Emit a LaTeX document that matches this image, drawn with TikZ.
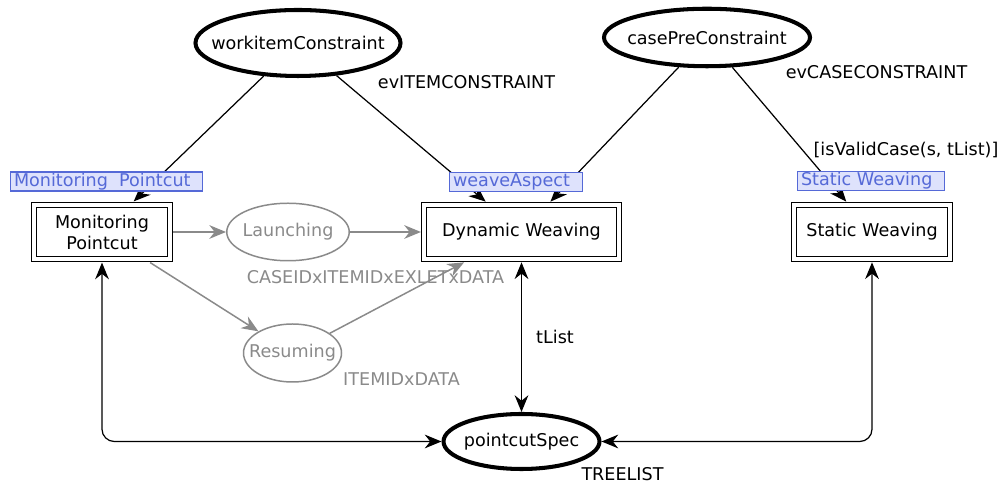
\documentclass[tikz,border=0pt]{standalone}
\usepackage{fontspec}
\setmainfont{DejaVu Sans}
\usetikzlibrary{shapes.geometric,arrows.meta}
\definecolor{tagblue}{RGB}{85,105,215}
\definecolor{tagfill}{RGB}{222,226,252}
\definecolor{faded}{RGB}{138,138,138}

\begin{document}
\begin{tikzpicture}[
    >={Stealth[length=9.5pt,width=7.8pt]},
    place/.style={ellipse,draw,line width=2.3pt,inner xsep=-3cm,inner ysep=0pt},
    trans/.style={rectangle,draw,double,line width=0.75pt,double distance=2.1pt,outer sep=1.9pt,minimum height=1.08cm,align=center},
    ghost/.style={ellipse,draw=faded,text=faded,line width=0.85pt,inner xsep=-3cm,inner ysep=0pt},
    tag/.style={rectangle,draw=tagblue,fill=tagfill,text=tagblue,line width=0.6pt,inner xsep=2pt,inner ysep=0.4pt,text height=7.6pt,text depth=2.4pt,anchor=west,execute at end node={\hspace{5pt}}},
    link/.style={line width=0.7pt},
    dim/.style={faded,line width=0.85pt}
  ]
    \useasboundingbox (0,0) rectangle (20.1,9.68);
    \node[place,minimum width=4.1cm,minimum height=1.32cm] (wic) at (5.96,8.82) {workitemConstraint};
    \node[place,minimum width=4.12cm,minimum height=1.15cm] (cpc) at (14.14,8.93) {casePreConstraint};
    \node[place,minimum width=3.12cm,minimum height=1.1cm] (pcs) at (10.43,0.85) {pointcutSpec};
    \node[trans,minimum width=2.71cm,minimum height=1.09cm] (mp) at (2.04,5.04) {Monitoring\\Pointcut};
    \node[trans,minimum width=3.89cm] (dw) at (10.43,5.04) {Dynamic Weaving};
    \node[trans,minimum width=3.11cm] (sw) at (17.44,5.04) {Static Weaving};
    \node[ghost,minimum width=2.45cm,minimum height=1.15cm] (lau) at (5.76,5.04) {Launching};
    \node[ghost,minimum width=1.96cm,minimum height=1.16cm] (res) at (5.85,2.62) {Resuming};

    \draw[->,link] (wic) edge (mp) edge (dw);
    \draw[->,link] (cpc) edge (dw) edge (sw);
    \draw[<->,link,rounded corners=7pt] (mp) |- (pcs);
    \draw[<->,link,rounded corners=7pt] (sw) |- (pcs);
    \draw[<->,link] (dw) -- (pcs);
    \draw[->,dim] (mp) edge (lau) edge (res);
    \draw[->,dim] (lau) edge (dw) (res) edge (dw);

    \node[tag] (mptag) at (0.2,6.05) {Monitoring\ \ Pointcut};
    \node[tag] (watag) at (8.98,6.04) {weaveAspect};
    \node[tag] (swtag) at (15.94,6.06) {Static Weaving};
    \node (evi) at (9.33,8.04) {evITEMCONSTRAINT};
    \node (evc) at (17.53,8.24) {evCASECONSTRAINT};
    \node (grd) at (18.12,6.68) {[isValidCase(s, tList)]};
    \node[anchor=west] (tl) at (10.6,2.94) {tList};
    \node (tre) at (12.45,0.2) {TREELIST};
    \node[text=faded] (cix) at (7.51,4.14) {CASEIDxITEMIDxEXLETxDATA};
    \node[text=faded] (idx) at (8.03,2.10) {ITEMIDxDATA};
\end{tikzpicture}
\end{document}
